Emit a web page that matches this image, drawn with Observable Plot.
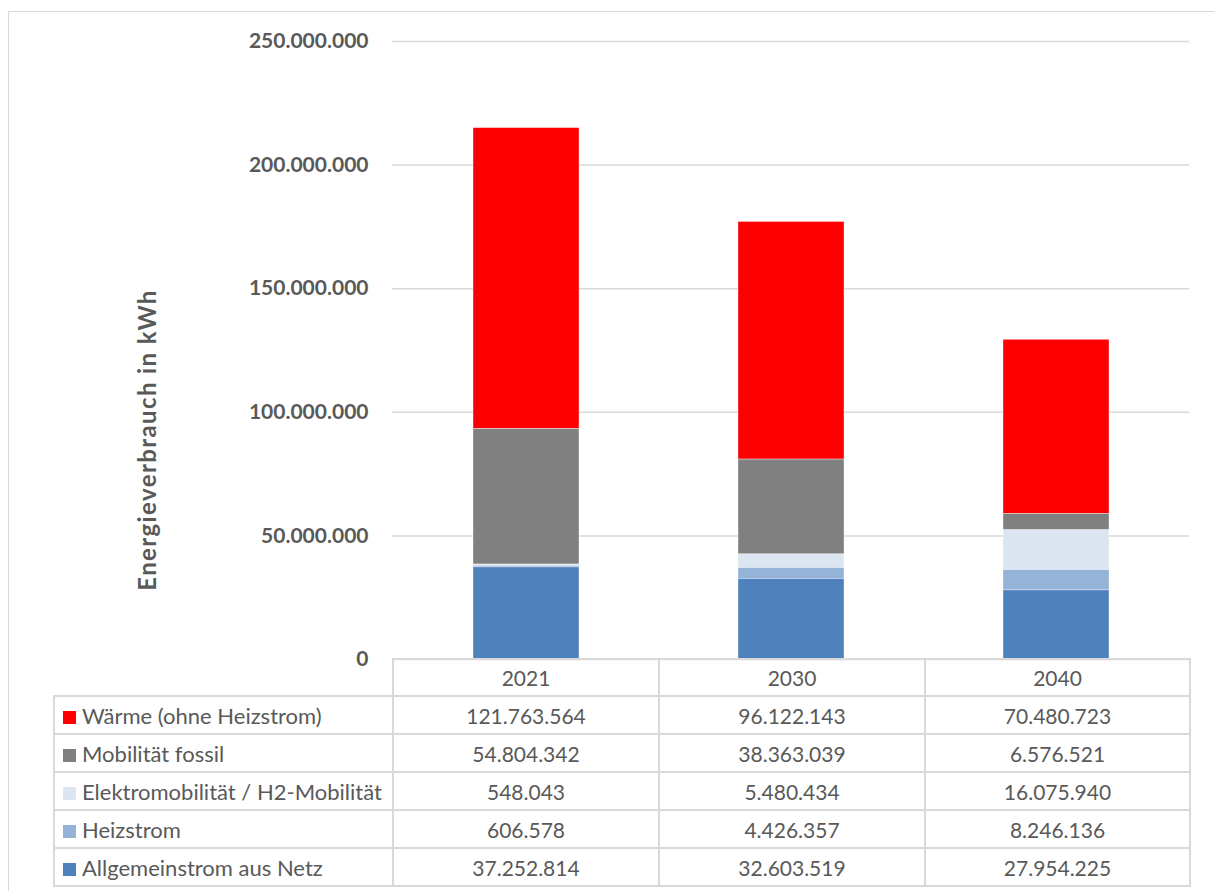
<!DOCTYPE html>
<html>
<head>
<meta charset="utf-8">
<script src="https://cdn.jsdelivr.net/npm/d3@7"></script>
<script src="https://cdn.jsdelivr.net/npm/@observablehq/plot@0.6"></script>
<style>
  html, body { margin: 0; padding: 0; background: #fff; }
  #wrap { position: relative; width: 1214px; height: 891px; overflow: hidden; font-family: Lato, "Open Sans", sans-serif; }
  #frame { position: absolute; left: 8px; top: 11px; width: 1220px; height: 900px; border: 1.5px solid #d9d9d9; box-sizing: border-box; }
  #chart { position: absolute; left: 0; top: 0; }
  #ytitle { position: absolute; left: 146px; top: 440px; transform: translate(-50%, -50%) rotate(-90deg); white-space: nowrap;
            font-weight: bold; font-size: 24px; letter-spacing: 1.4px; color: #595959; }
  #tbl { position: absolute; left: 53px; top: 658px; border-collapse: collapse; table-layout: fixed; color: #595959; font-size: 21px; }
  #tbl td { border: 2px solid #d9d9d9; padding: 0; text-align: center; white-space: nowrap; overflow: hidden; }
  #tbl td.lab { text-align: left; padding-left: 8px; font-size: 22px; }
  #tbl td.corner { border: none; }
  .sw { display: inline-block; width: 13px; height: 13px; margin-right: 6px; vertical-align: 0px; }
</style>
</head>
<body>
<div id="wrap">
  <div id="frame"></div>
  <div id="chart"></div>
  <div id="ytitle">Energieverbrauch in kWh</div>
  <table id="tbl"></table>
</div>
<script>
// ---- data ----
const years = ["2021", "2030", "2040"];
const seriesNames = [
  "Wärme (ohne Heizstrom)",
  "Mobilität fossil",
  "Elektromobilität / H2-Mobilität",
  "Heizstrom",
  "Allgemeinstrom aus Netz"
];
const waerme = [121763564, 96122143, 70480723];
const mobilitaetFossil = [54804342, 38363039, 6576521];
const elektromobilitaet = [548043, 5480434, 16075940];
const heizstrom = [606578, 4426357, 8246136];
const allgemeinstrom = [37252814, 32603519, 27954225];
const seriesColors = ["#ff0000", "#808080", "#dce6f2", "#95b3d7", "#4f81bd"];
const yTicks = [0, 50000000, 100000000, 150000000, 200000000, 250000000];

const seriesValues = [waerme, mobilitaetFossil, elektromobilitaet, heizstrom, allgemeinstrom];
const rows = [];
seriesNames.forEach((s, i) => years.forEach((y, j) => rows.push({ series: s, year: y, value: seriesValues[i][j] })));

const de = d3.formatLocale({ decimal: ",", thousands: ".", grouping: [3], currency: ["", " €"] });
const fmt = de.format(",d");

// stacking order: bottom first
const stackOrder = seriesNames.slice().reverse();

const chart = Plot.plot({
  width: 1214,
  height: 682,
  marginTop: 41,
  marginBottom: 23,
  marginLeft: 392,
  marginRight: 25,
  style: { fontFamily: "Lato, 'Open Sans', sans-serif", background: "transparent" },
  x: { domain: years, paddingInner: 0.6, paddingOuter: 0.3, axis: null },
  y: { domain: [0, 250000000], axis: null },
  color: { domain: seriesNames, range: seriesColors },
  marks: [
    Plot.gridY(yTicks, { stroke: "#d9d9d9", strokeOpacity: 1, strokeWidth: 1.5 }),
    Plot.barY(rows, Plot.stackY({ order: stackOrder }, {
      x: "year", y: "value", fill: "series", stroke: "#ffffff", strokeWidth: 0.6, strokeOpacity: 0.6
    })),
    Plot.axisY(yTicks, {
      tickFormat: fmt, tickSize: 0, tickPadding: 24, fontSize: 21, fontWeight: "bold", fill: "#595959", label: null
    })
  ]
});
document.getElementById("chart").appendChild(chart);

// ---- data table ----
const tbl = d3.select("#tbl");
const cg = tbl.append("colgroup");
[339, 266, 266, 265].forEach(w => cg.append("col").style("width", w + "px"));
const head = tbl.append("tr").style("height", "37px");
head.append("td").attr("class", "corner");
years.forEach(y => head.append("td").text(y));
seriesNames.forEach((s, i) => {
  const tr = tbl.append("tr").style("height", "38px");
  const lab = tr.append("td").attr("class", "lab");
  lab.append("span").attr("class", "sw").style("background", seriesColors[i]);
  lab.append("span").text(s);
  seriesValues[i].forEach(v => tr.append("td").text(fmt(v)));
});
</script>
</body>
</html>
